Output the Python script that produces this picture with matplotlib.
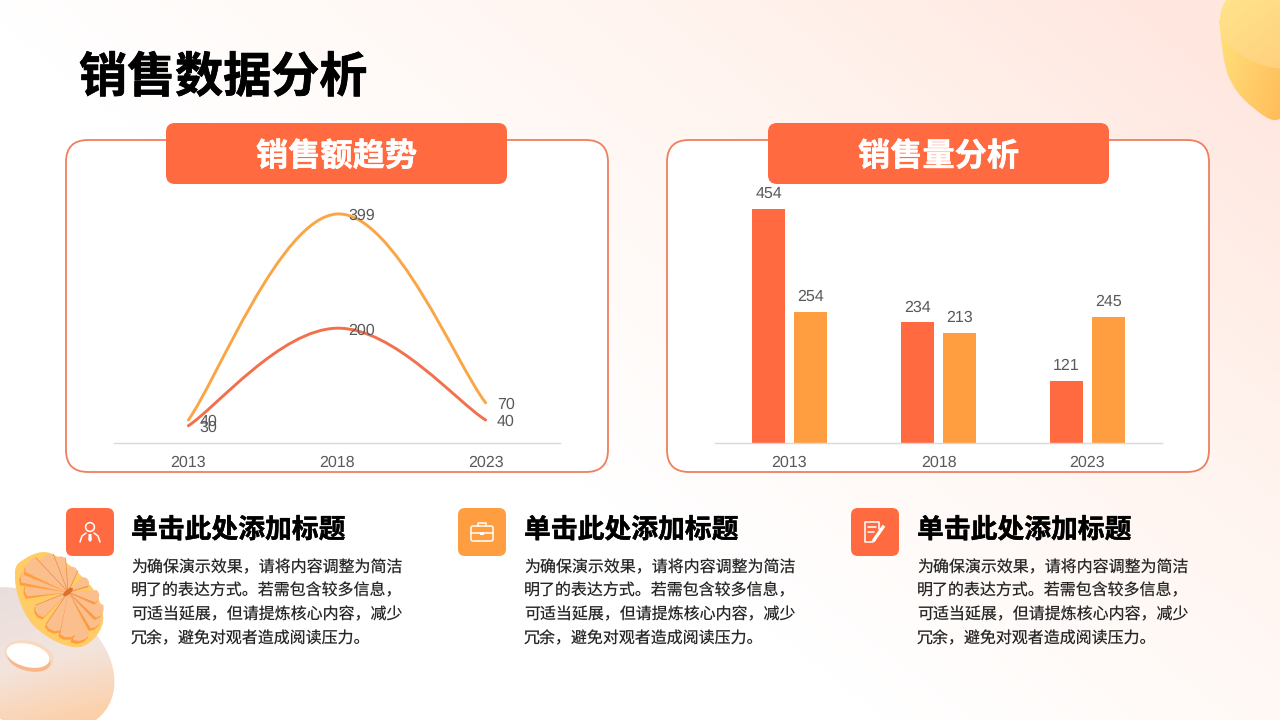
import numpy as np
import matplotlib
matplotlib.use("Agg")
import matplotlib.pyplot as plt
from matplotlib.patches import FancyBboxPatch, Ellipse, PathPatch, Circle, Rectangle, Polygon
from matplotlib.path import Path
from matplotlib.colors import LinearSegmentedColormap as LSC
import matplotlib.patheffects as pe

CJK = ['Noto Sans CJK SC', 'DejaVu Sans']
LAT = ['Liberation Sans', 'DejaVu Sans']
plt.rcParams['font.family'] = CJK
plt.rcParams['text.hinting'] = 'none'
plt.rcParams['text.hinting_factor'] = 1

# ---------- data ----------
categories = ['2013', '2018', '2023']
line_orange = [40, 399, 70]
line_red = [30, 200, 40]
bar_red = [454, 234, 121]
bar_orange = [254, 213, 245]

page_title = '销售数据分析'
panel_titles = ['销售额趋势', '销售量分析']
card_title = '单击此处添加标题'
card_lines = ['为确保演示效果\uff0c请将内容调整为简洁',
              '明了的表达方式。若需包含较多信息\uff0c',
              '可适当延展\uff0c但请提炼核心内容\uff0c减少',
              '冗余\uff0c避免对观者造成阅读压力。']

RED = '#FF6A40'
ORANGE = '#FF9E40'
LINE_RED = '#F2704C'
LINE_ORANGE = '#FBA544'
EDGE = '#EE7F60'
GREY = '#595959'

fig = plt.figure(figsize=(12.8, 7.2), dpi=100)
bg = fig.add_axes([0, 0, 1, 1])
bg.set_xlim(0, 1280)
bg.set_ylim(720, 0)
bg.axis('off')


def grad(c0, c1, box, angle=90, z=1, clip=None, ax=bg):
    """Linear gradient painted in box (x0,x1,y0,y1), clipped to a patch."""
    x0, x1, y0, y1 = box
    n = 128
    xx, yy = np.meshgrid(np.linspace(0, 1, n), np.linspace(0, 1, n))
    a = np.deg2rad(angle)
    t = xx * np.cos(a) + yy * np.sin(a)
    t = (t - t.min()) / (t.max() - t.min())
    cm = LSC.from_list('g', [c0, c1] if isinstance(c0, str) else c0)
    im = ax.imshow(t, cmap=cm, extent=(x0, x1, y1, y0), aspect='auto', zorder=z,
                   interpolation='bilinear')
    if clip is not None:
        im.set_clip_path(clip)
    return im


def smooth_closed(points):
    """Closed Catmull-Rom outline through decorative outline points."""
    p = np.array(points, float)
    n = len(p)
    v = [p[0]]
    c = [Path.MOVETO]
    for i in range(n):
        a, b, d, e = p[(i - 1) % n], p[i], p[(i + 1) % n], p[(i + 2) % n]
        v += [b + (d - a) / 6, d - (e - b) / 6, d]
        c += [Path.CURVE4] * 3
    return Path(v, c)


# page background
yy, xx = np.mgrid[0:1:180j, 0:1:320j]
t = np.clip(xx * 1.05 + (1 - yy) * 0.75 - 0.72, 0, 1) / 1.08
t = np.clip(t, 0, 1) ** 1.05
bgcm = LSC.from_list('bg', ['#FFFFFF', '#FFF4EF', '#FFE4DC'])
bg.imshow(t, cmap=bgcm, vmin=0, vmax=1, extent=(0, 1280, 720, 0), aspect='auto',
          zorder=0, interpolation='bilinear')

# top-right decoration
body = PathPatch(smooth_closed([(1220, -8), (1220, 28), (1228, 75), (1250, 105), (1281, 118), (1300, 60), (1290, -8)]),
                 fc='none', ec='none')
bg.add_patch(body)
grad('#FFE27E', '#FFBC58', (1218, 1282, 20, 120), angle=25, z=2, clip=body)
top = Ellipse((1290, 20), 140, 98, fc='none', ec='none')
bg.add_patch(top)
grad('#FFE48C', '#FFCF7C', (1218, 1285, 0, 72), angle=55, z=3, clip=top)

# bottom-left decoration: ring
ring = Ellipse((28, 660), 185, 130, angle=30, fc='none', ec='none')
bg.add_patch(ring)
grad([(0, '#E6DDDE'), (0.55, '#F3E4DD'), (1, '#FFCB9C')], None, (-70, 125, 585, 725),
     angle=70, z=2, clip=ring)
bg.add_patch(Ellipse((29, 656), 50, 30, angle=14, fc='#F8D9C0', ec='none', zorder=3))
bg.add_patch(Ellipse((29, 659), 44, 24, angle=14, fc='#FBB688', ec='none', zorder=3.1))
bg.add_patch(Ellipse((28, 655.5), 44, 23, angle=14, fc='#FFFFFF', ec='none', zorder=4))

# bottom-left decoration: flower
rim_pts = [(20, 562), (15, 578), (20, 602), (33, 625), (57, 642), (80, 647), (97, 635), (103, 615), (90, 585),
           (50, 553)]
bg.add_patch(PathPatch(smooth_closed(rim_pts), fc='#FFCC66', ec='none', zorder=5))
hub = np.array([68.0, 592.0])
tips = [(45, 556), (58, 557), (73, 567), (88, 580), (99, 597), (102, 613), (98, 625),
        (82, 640), (68, 637), (52, 630), (37, 613), (25, 588), (22, 573), (28, 563)]
order = [6, 7, 5, 8, 4, 9, 3, 10, 2, 11, 1, 12, 0, 13]
for i in order:
    tip = np.array(tips[i], float)
    d = tip - hub
    L = np.hypot(*d)
    u = d / L
    nrm = np.array([-u[1], u[0]])
    w = 2.2 + L * 0.135
    for shift, col in [((-1.5, 3.0), '#FF9F3E'), ((0, 0), '#FBBF8E')]:
        s = np.array(shift) * (L / 50)
        poly = [hub + nrm * 0.5, tip - u * 3 + nrm * w + s, tip + s + nrm * w * 0.4,
                tip + s - nrm * w * 0.4, tip - u * 3 - nrm * w + s, hub - nrm * 0.5]
        bg.add_patch(Polygon(poly, closed=True, fc=col, ec='none', joinstyle='round',
                             zorder=6 + order.index(i) * 0.02))
    bg.plot([hub[0], tip[0] - u[0] * 3 + nrm[0] * w], [hub[1], tip[1] - u[1] * 3 + nrm[1] * w],
            color='#F08A45', lw=0.5, zorder=6 + order.index(i) * 0.021)
bg.add_patch(Ellipse(hub, 12, 5, angle=-40, fc='#E0702C', ec='none', zorder=7))
bg.set_xlim(0, 1280)
bg.set_ylim(720, 0)


def rbox(x0, y0, x1, y1, r, fc, ec='none', lw=0, z=5):
    p = FancyBboxPatch((x0 + r, y0 + r), x1 - x0 - 2 * r, y1 - y0 - 2 * r,
                       boxstyle=f'round,pad={r},rounding_size={r}', fc=fc, ec=ec, lw=lw, zorder=z)
    bg.add_patch(p)
    return p


def heavy(col, lw=0.7):
    return [pe.withStroke(linewidth=lw, foreground=col)]


# title
bg.text(79, 78, page_title, fontsize=34.6, fontweight='bold', color='#000000',
        va='center', ha='left', zorder=10, path_effects=heavy('#000000', 0.5))

# panels
for px0, hx0, ttl in [(66, 166, panel_titles[0]), (667, 768, panel_titles[1])]:
    rbox(px0, 140, px0 + 542, 472, 22, '#FFFFFF', EDGE, 1.3, z=8)
    rbox(hx0, 123, hx0 + 341, 184, 9, RED, z=9)
    bg.text(hx0 + 170.5, 156.5, ttl, fontsize=23.2, fontweight='bold', color='#FFFFFF',
            ha='center', va='center', zorder=10, path_effects=heavy('#FFFFFF', 0.3))


def chart_axes(x0, x1, ytop, ybase):
    ax = fig.add_axes([x0 / 1280, 1 - ybase / 720, (x1 - x0) / 1280, (ybase - ytop) / 720])
    ax.patch.set_alpha(0)
    for s in ['top', 'left', 'right']:
        ax.spines[s].set_visible(False)
    ax.spines['bottom'].set_color('#D9D9D9')
    ax.spines['bottom'].set_linewidth(1)
    ax.set_yticks([])
    ax.tick_params(axis='x', length=0, pad=9, labelsize=11.2, labelcolor=GREY)
    ax.set_xlim(-0.5, 2.5)
    ax.set_xticks(range(len(categories)))
    ax.set_xticklabels(categories, fontfamily=LAT)
    ax.set_zorder(5)
    return ax


def smooth_path(vals):
    """Bezier curve through the values, with Catmull-Rom style tangents."""
    pts = np.column_stack([np.arange(len(vals)), vals]).astype(float)
    k = 0.19
    v = [pts[0]]
    c = [Path.MOVETO]
    for i in range(len(pts) - 1):
        p0 = pts[max(i - 1, 0)]
        p1, p2 = pts[i], pts[i + 1]
        p3 = pts[min(i + 2, len(pts) - 1)]
        v += [p1 + (p2 - p0) * k, p2 - (p3 - p1) * k, p2]
        c += [Path.CURVE4] * 3
    return Path(v, c)


# line chart
ax1 = chart_axes(114, 560, 190, 443)
ax1.set_ylim(0, 253 / 0.574)
for vals, col in [(line_orange, LINE_ORANGE), (line_red, LINE_RED)]:
    ax1.add_patch(PathPatch(smooth_path(vals), fc='none', ec=col, lw=2.1, capstyle='round', zorder=3))
    for i, v in enumerate(vals):
        ax1.annotate(str(v), (i, v), xytext=(8, -1.5), textcoords='offset points',
                     va='center', ha='left', fontsize=11.2, color=GREY, fontfamily=LAT, zorder=4)

# bar chart
ax2 = chart_axes(715, 1162, 190, 443)
ax2.set_ylim(0, 253 / 0.515)
bw = 33 / (447 / 3)
off = 21.0 / (447 / 3)
x = np.arange(len(categories))
b1 = ax2.bar(x - off, bar_red, bw, color=RED, zorder=2)
b2 = ax2.bar(x + off, bar_orange, bw, color=ORANGE, zorder=2)
for bars in (b1, b2):
    ax2.bar_label(bars, labels=[str(int(b.get_height())) for b in bars], padding=5.5,
                  fontsize=11.2, color=GREY, fontfamily=LAT)

# cards
for i, (ix, tx, col) in enumerate([(66, 131, RED), (458, 524, ORANGE), (851, 917, RED)]):
    rbox(ix, 508, ix + 48, 556, 7, col, z=9)
    bg.text(tx, 530, card_title, fontsize=19.3, fontweight='bold', color='#000000',
            ha='left', va='center', zorder=10, path_effects=heavy('#000000', 0.3))
    for j, ln in enumerate(card_lines):
        bg.text(tx, 567.5 + j * 23.6, ln, fontsize=11.5, color='#262626',
                ha='left', va='center', zorder=10)
    cx, cy = ix + 24, 532
    W = dict(color='#FFFFFF', lw=1.1, zorder=11, solid_capstyle='round')
    if i == 0:  # person
        bg.add_patch(Circle((cx, cy - 5), 4.4, fc='none', ec='#FFFFFF', lw=1.1, zorder=11))
        bg.plot([cx - 10, cx - 8, cx - 4], [cy + 10, cy + 4, cy + 1], **W)
        bg.plot([cx + 10, cx + 8, cx + 4], [cy + 10, cy + 4, cy + 1], **W)
        bg.add_patch(Polygon([(cx - 1.4, cy + 2), (cx + 1.4, cy + 2), (cx + 1.8, cy + 8), (cx, cy + 10),
                              (cx - 1.8, cy + 8)], fc='#FFFFFF', ec='none', zorder=11))
    elif i == 1:  # briefcase
        rbox(cx - 11, cy - 6, cx + 11, cy + 9, 2, 'none', '#FFFFFF', 1.1, z=11)
        bg.plot([cx - 4, cx - 4, cx + 4, cx + 4], [cy - 6, cy - 9.5, cy - 9.5, cy - 6], **W)
        bg.plot([cx - 11, cx - 2], [cy + 1, cy + 1], **W)
        bg.plot([cx + 2, cx + 11], [cy + 1, cy + 1], **W)
        bg.add_patch(Rectangle((cx - 2, cy - 0.5), 4, 3.5, fc='#FFFFFF', ec='none', zorder=11))
    else:  # note with pen
        bg.plot([cx + 4, cx + 4, cx - 10, cx - 10, cx - 2],
                [cy - 3, cy - 10, cy - 10, cy + 10, cy + 10], **W)
        bg.plot([cx - 7, cx + 1], [cy - 5, cy - 5], **W)
        bg.plot([cx - 7, cx - 1], [cy, cy], **W)
        bg.plot([cx - 1, cx + 8], [cy + 8, cy - 5], color='#FFFFFF', lw=2.4, zorder=11)

bg.set_xlim(0, 1280)
bg.set_ylim(720, 0)
fig.savefig('out.png', dpi=100)
